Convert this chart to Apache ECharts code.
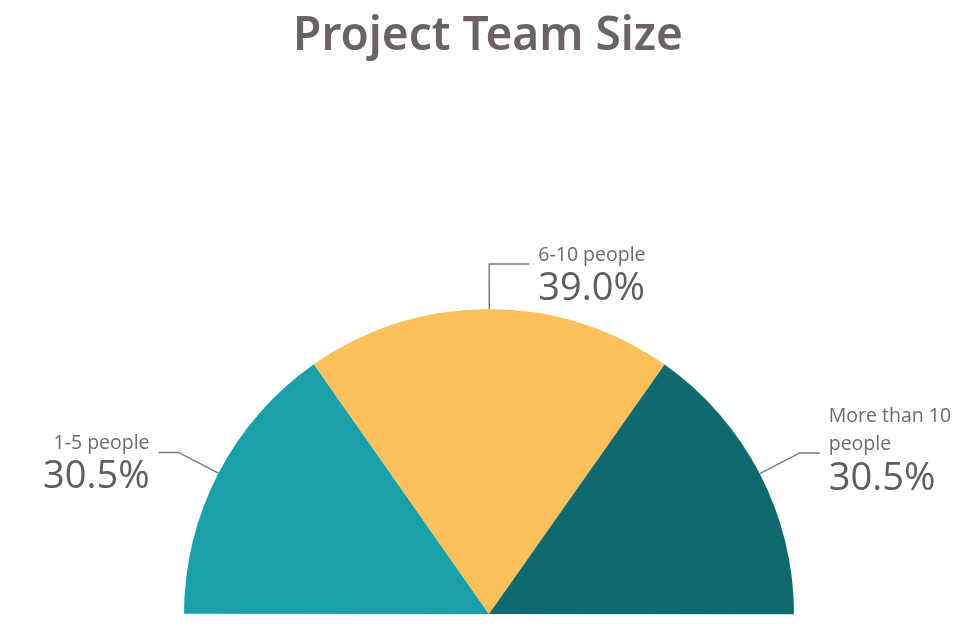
<!DOCTYPE html>
<html>
<head>
<meta charset="utf-8">
<script src="https://cdn.jsdelivr.net/npm/echarts@6/dist/echarts.min.js"></script>
<style>
html,body{margin:0;padding:0;background:#fff;}
#chart{width:976px;height:637px;}
</style>
</head>
<body>
<div id="chart"></div>
<script>
const titleText = 'Project Team Size';
const categories = ['1-5 people', '6-10 people', 'More than 10 people'];
const values = [30.5, 39.0, 30.5];
const colors = ['#1aa0a8', '#fdc15b', '#0f6a6d'];

function wrapName(name) {
  const words = name.split(' ');
  const lines = [];
  let cur = '';
  words.forEach(w => {
    const t = cur ? cur + ' ' + w : w;
    if (t.length > 12 && cur) { lines.push(cur); cur = w; } else { cur = t; }
  });
  if (cur) lines.push(cur);
  return lines;
}

const chart = echarts.init(document.getElementById('chart'));
chart.setOption({
  backgroundColor: '#ffffff',
  title: {
    text: titleText,
    left: 'center',
    top: 9,
    textStyle: { fontFamily: 'Noto Sans', fontSize: 46, fontWeight: 600, color: '#6a6264' }
  },
  series: [{
    type: 'pie',
    center: [489, 614],
    radius: [0, 305],
    startAngle: 179.95,
    endAngle: -0.05,
    clockwise: true,
    animation: false,
    data: categories.map((c, i) => {
      const multi = wrapName(c).length > 1;
      const isTop = i === 1;
      return {
        name: c, value: values[i], itemStyle: { color: colors[i] },
        label: { padding: multi ? [0, 0, 4, 0] : [22, 0, 0, 0] },
        labelLine: { length2: isTop ? 40 : 20 }
      };
    }),
    label: {
      show: true,
      position: 'outside',
      distanceToLabelLine: 9,
      fontFamily: 'Open Sans',
      formatter: p => wrapName(p.name).map(l => '{n|' + l + '}').join('\n') + '\n{v|' + p.value.toFixed(1) + '%}',
      rich: {
        n: { fontFamily: 'Open Sans', fontSize: 19.5, color: '#6b6b6b', lineHeight: 28 },
        v: { fontFamily: 'Open Sans', fontSize: 38, color: '#5e5e5e', lineHeight: 40 }
      }
    },
    labelLine: {
      show: true,
      length: 45,
      smooth: false,
      lineStyle: { color: '#7a7a7a', width: 1.5 }
    }
  }]
});
</script>
</body>
</html>
